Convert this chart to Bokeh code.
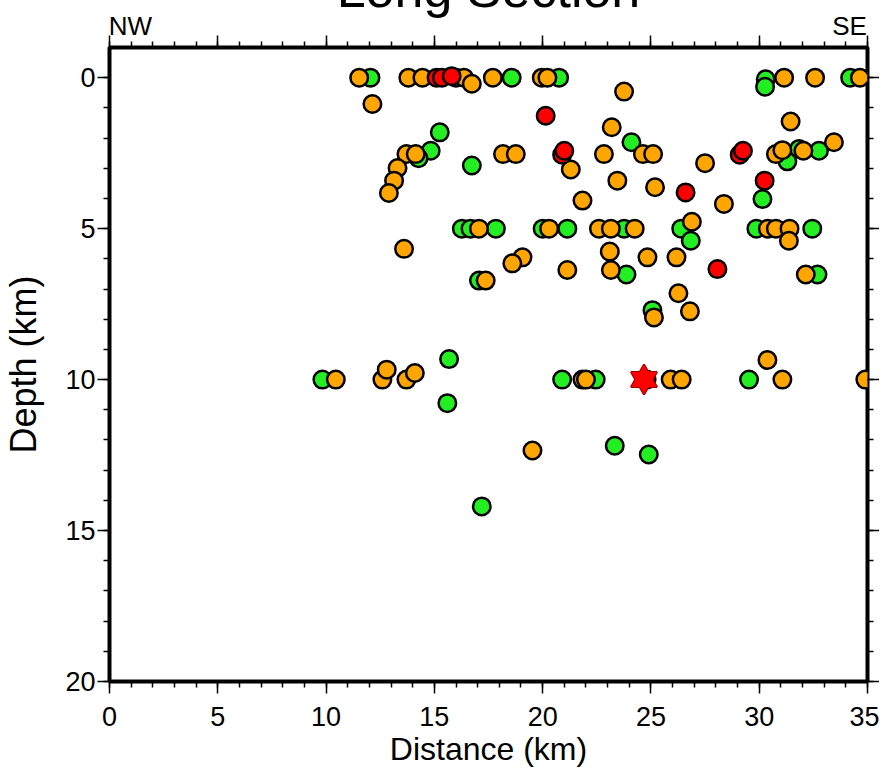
from bokeh.plotting import figure
from bokeh.models import Range1d, FixedTicker, LinearAxis, CustomJSTickFormatter
from bokeh.embed import file_html
from bokeh.resources import INLINE

# ---- data: distance along section (km) and depth (km) ----
green_dist = [12.05, 18.57, 20.76, 30.3, 30.27, 34.2,
              15.25, 14.83, 14.27, 16.73, 24.1, 31.3, 31.84, 32.76, 30.15,
              16.27, 16.67, 17.84, 20.0, 21.14, 23.76, 26.4, 29.87, 32.45,
              26.84, 23.87, 32.69, 17.06, 25.07,
              9.83, 15.68, 15.6, 20.9, 22.45, 29.53,
              23.33, 24.9, 17.19]
green_depth = [0.0, 0.0, 0.0, 0.05, 0.3, 0.0,
               1.81, 2.42, 2.67, 2.91, 2.14, 2.77, 2.36, 2.42, 4.02,
               5.0, 5.0, 5.0, 5.0, 5.0, 5.0, 5.0, 5.0, 5.0,
               5.4, 6.52, 6.52, 6.72, 7.7,
               10.0, 9.32, 10.78, 10.0, 10.0, 10.0,
               12.19, 12.48, 14.2]

orange_dist = [11.53, 13.8, 14.45, 16.0, 16.37, 16.73, 17.7, 19.96, 20.22, 31.15, 32.58, 34.65,
               12.14, 23.76, 23.19, 31.45, 33.45,
               13.71, 14.14, 18.17, 18.76, 22.83, 24.63, 25.1, 30.77, 31.07, 32.04, 27.5,
               13.3, 13.14, 12.9, 21.3, 23.45, 25.19, 28.37, 21.84,
               17.06, 20.3, 22.6, 23.15, 24.25, 30.4, 30.77, 31.4, 26.89, 31.37,
               13.6, 23.1, 24.84, 26.18, 19.07, 18.6, 21.14, 23.15, 32.15, 17.37,
               26.27, 25.14, 26.8,
               10.45, 12.6, 12.8, 13.71, 14.1, 21.84, 22.0, 24.8, 25.91, 26.42, 30.38, 31.07, 34.9,
               19.53]
orange_depth = [0.0, 0.0, 0.0, 0.0, 0.0, 0.2, 0.0, 0.0, 0.0, 0.0, 0.0, 0.0,
                0.87, 0.46, 1.64, 1.45, 2.14,
                2.53, 2.53, 2.53, 2.53, 2.53, 2.53, 2.53, 2.53, 2.4, 2.42, 2.83,
                2.99, 3.41, 3.82, 3.04, 3.41, 3.63, 4.18, 4.07,
                5.0, 5.0, 5.0, 5.0, 5.0, 5.0, 5.0, 5.0, 4.77, 5.4,
                5.67, 5.76, 5.95, 5.95, 5.95, 6.15, 6.37, 6.37, 6.52, 6.72,
                7.14, 7.94, 7.74,
                10.0, 10.0, 9.67, 10.0, 9.78, 10.0, 10.0, 10.0, 10.0, 10.0, 9.35, 10.0, 10.0,
                12.35]

red_dist = [15.1, 15.35, 15.8, 20.14, 20.9, 21.0, 29.1, 29.25, 26.6, 30.25, 28.07]
red_depth = [0.0, 0.0, -0.05, 1.26, 2.55, 2.42, 2.55, 2.42, 3.8, 3.41, 6.34]

star_dist = [24.68]
star_depth = [10.0]

x_major = [0, 5, 10, 15, 20, 25, 30, 35]
x_minor = list(range(0, 36))
y_major = [0, 5, 10, 15, 20]
y_minor = list(range(0, 21))

end_pos = [0.97, 34.17]          # where the end labels sit along the top edge
end_labels = {0.97: "NW", 34.17: "SE"}

FONT = "Liberation Sans"

p = figure(frame_width=758, frame_height=634,
           min_border_left=107, min_border_right=10, min_border_top=0, min_border_bottom=60,
           x_range=Range1d(0, 35), y_range=Range1d(20, -1),
           output_backend="svg", toolbar_location=None, margin=(-44, 0, 0, 0))
p.xgrid.visible = False
p.ygrid.visible = False
p.outline_line_color = "black"
p.outline_line_width = 4
p.background_fill_color = "white"
p.border_fill_color = "white"

bottom = p.below[0]
left = p.left[0]

blank = CustomJSTickFormatter(code="return ''")

top = LinearAxis()
right = LinearAxis()
p.add_layout(top, "above")
p.add_layout(right, "right")

bottom.ticker = FixedTicker(ticks=x_major, minor_ticks=x_minor)
top.ticker = FixedTicker(ticks=x_major, minor_ticks=x_minor)
left.ticker = FixedTicker(ticks=y_major, minor_ticks=y_minor)
right.ticker = FixedTicker(ticks=y_major, minor_ticks=y_minor)

for ax in [bottom, left, top, right]:
    ax.axis_line_color = None
    ax.major_tick_out = 12
    ax.major_tick_in = 0
    ax.minor_tick_out = 6
    ax.minor_tick_in = 0
    ax.major_tick_line_color = "black"
    ax.minor_tick_line_color = "black"
    ax.major_tick_line_width = 1.5
    ax.minor_tick_line_width = 1.5
    ax.major_label_text_font = FONT
    ax.major_label_text_font_size = "27px"
    ax.major_label_text_color = "black"
    ax.axis_label_text_font = FONT
    ax.axis_label_text_font_style = "normal"
    ax.axis_label_text_font_size = "32px"
    ax.axis_label_text_color = "black"

for ax in [top, right]:
    ax.formatter = blank
    ax.major_label_text_font_size = "1px"
    ax.major_label_standoff = 0

# outer top axis carrying only the end labels and the title
ends = LinearAxis(ticker=FixedTicker(ticks=end_pos, minor_ticks=[]),
                  major_label_overrides=end_labels)
ends.axis_line_color = None
ends.major_tick_line_color = None
ends.minor_tick_line_color = None
ends.major_tick_out = 0
ends.major_tick_in = 0
ends.major_label_standoff = -5
ends.major_label_text_font = FONT
ends.major_label_text_font_size = "26px"
ends.major_label_text_color = "black"
ends.axis_label = "Long Section"
ends.axis_label_text_font = FONT
ends.axis_label_text_font_style = "normal"
ends.axis_label_text_font_size = "52px"
ends.axis_label_text_color = "black"
ends.axis_label_standoff = -10
p.add_layout(ends, "above")

bottom.axis_label = "Distance (km)"
bottom.major_label_standoff = 13
bottom.axis_label_standoff = 2
left.axis_label = "Depth (km)"
left.axis_label_text_font_size = "36px"
left.major_label_standoff = 2
left.axis_label_standoff = 18

common = dict(size=17.5, line_color="black", line_width=2.5, marker="circle")
p.scatter(green_dist, green_depth, fill_color="#22ee22", **common)
p.scatter(orange_dist, orange_depth, fill_color="#ffa500", **common)
p.scatter(red_dist, red_depth, fill_color="#ff0000", **common)

# six-pointed star: outlines first, then fills on top
for mk in ["triangle", "inverted_triangle"]:
    p.scatter(star_dist, star_depth, marker=mk, size=26, fill_color=None,
              line_color="#990000", line_width=2)
for mk in ["triangle", "inverted_triangle"]:
    p.scatter(star_dist, star_depth, marker=mk, size=26, fill_color="#ff0000",
              line_color=None)

open("out.html", "w").write(file_html(p, INLINE))
